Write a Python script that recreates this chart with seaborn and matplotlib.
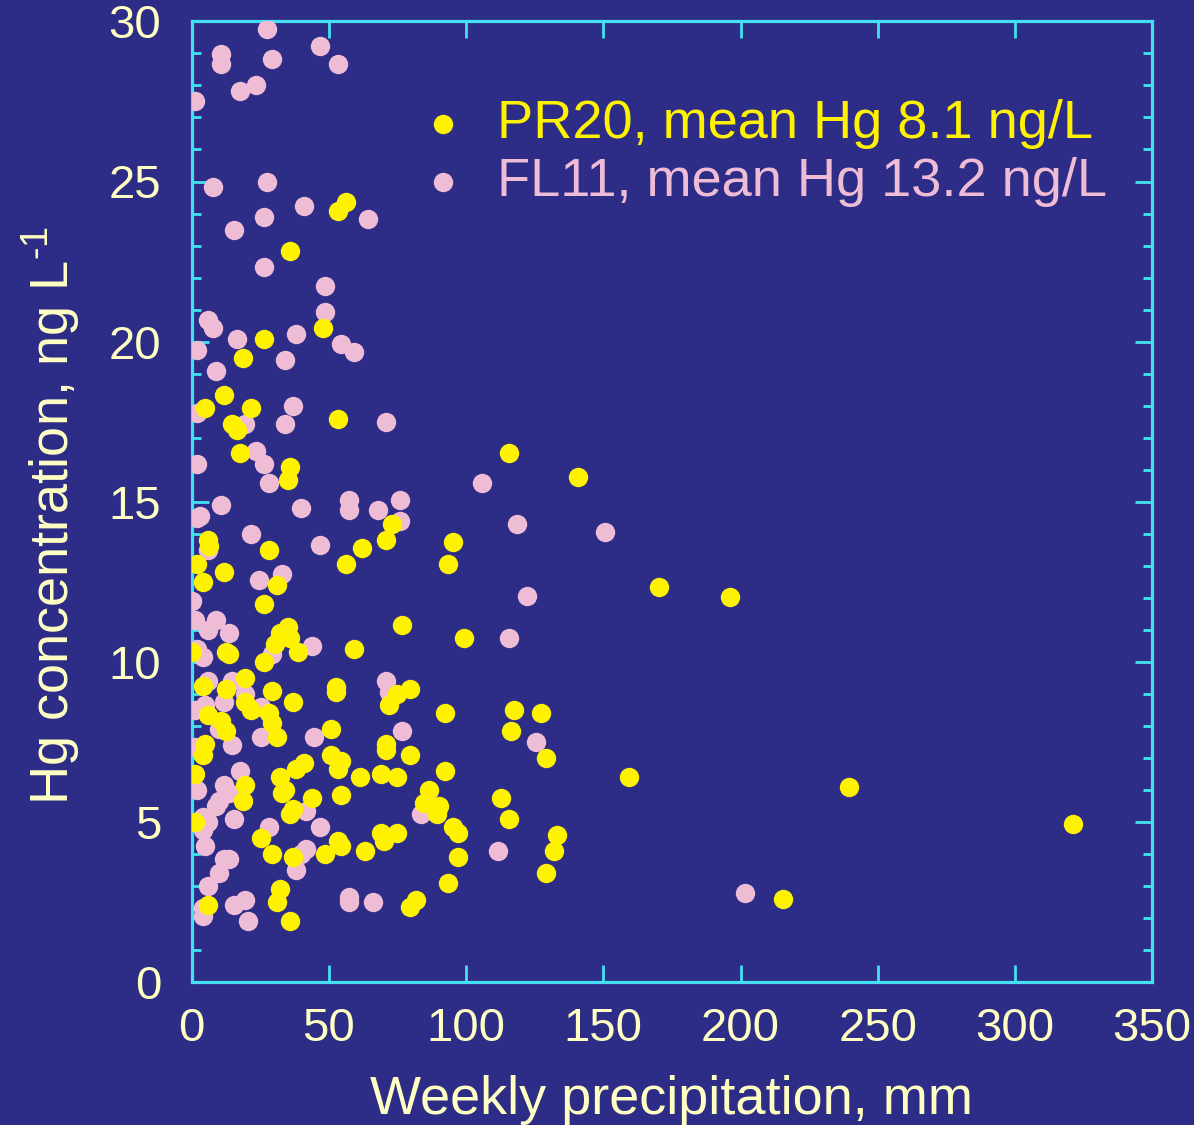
import matplotlib
matplotlib.use("Agg")
import matplotlib.pyplot as plt
from matplotlib.ticker import MultipleLocator
import seaborn as sns
import pandas as pd

# Colours
BG = "#2d2d87"
AXIS = "#44e0f2"
TEXT = "#ffffc4"
YELLOW = "#fff200"
PINK = "#efbcd6"

# PR20 site: weekly precipitation (mm) and Hg (ng/L)
pr20_x = [56.4, 53.5, 36.0, 47.7, 26.3, 18.6, 11.8, 5.0, 21.5, 53.5,
          14.7, 16.6, 17.6, 36.0, 35.0, 72.9, 70.9, 5.9, 6.5, 28.3,
          62.2, 56.4, 2.1, 11.8, 4.0, 31.2, 26.3, 35.0, 32.1, 36.0,
          30.2, 38.9, 76.8, 59.3, 0.1, 12.7, 13.7, 26.3, 52.5, 52.5,
          74.8, 79.7, 71.9, 19.5, 4.0, 12.7, 29.2, 37.0, 19.5, 5.9,
          21.5, 28.3, 29.2, 10.8, 12.7, 50.6, 31.2, 5.0, 4.0, 70.9,
          70.9, 79.7, 1.1, 19.5, 18.6, 1.1, 32.1, 37.9, 40.9, 34.1,
          33.1, 43.8, 37.0, 36.0, 25.4, 29.2, 37.0, 50.6, 53.5, 54.5,
          61.2, 69.0, 74.8, 54.5, 53.5, 54.5, 48.6, 63.2, 69.0, 70.0,
          74.8, 32.1, 31.2, 5.9, 36.0, 79.7, 81.6, 115.6, 140.8, 95.2,
          93.3, 170.4, 196.1, 99.1, 92.3, 117.5, 127.2, 116.5, 129.1, 92.3,
          159.2, 86.5, 84.5, 90.3, 89.4, 112.7, 115.6, 95.2, 97.1, 133.0,
          132.0, 97.1, 129.1, 93.3, 239.7, 321.2, 215.4]
pr20_y = [24.35, 24.08, 22.83, 20.42, 20.08, 19.50, 18.34, 17.92, 17.92, 17.59,
          17.42, 17.25, 16.51, 16.09, 15.67, 14.32, 13.82, 13.82, 13.62, 13.49,
          13.57, 13.07, 13.07, 12.82, 12.49, 12.40, 11.82, 11.09, 10.89, 10.76,
          10.57, 10.32, 11.16, 10.41, 10.32, 10.32, 10.24, 9.99, 9.20, 9.05,
          9.01, 9.16, 8.64, 9.51, 9.24, 9.16, 9.08, 8.74, 8.74, 8.33,
          8.49, 8.41, 8.08, 8.16, 7.83, 7.91, 7.66, 7.45, 7.08, 7.45,
          7.25, 7.08, 6.49, 6.16, 5.66, 5.00, 6.41, 6.66, 6.83, 5.99,
          5.91, 5.74, 5.41, 5.24, 4.50, 4.00, 3.91, 7.08, 6.66, 6.91,
          6.41, 6.49, 6.41, 5.83, 4.41, 4.25, 4.00, 4.08, 4.66, 4.41,
          4.66, 2.91, 2.50, 2.41, 1.91, 2.35, 2.58, 16.51, 15.76, 13.74,
          13.07, 12.34, 12.02, 10.74, 8.41, 8.49, 8.41, 7.83, 6.99, 6.58,
          6.41, 5.99, 5.58, 5.49, 5.24, 5.74, 5.08, 4.83, 4.66, 4.58,
          4.08, 3.91, 3.41, 3.08, 6.09, 4.93, 2.59]

# FL11 site
fl11_x = [27.3, 10.8, 10.8, 29.2, 46.7, 53.5, 17.6, 23.4, 1.1, 7.9,
          27.3, 40.9, 26.3, 15.6, 64.1, 26.3, 48.6, 48.6, 5.9, 7.9,
          16.6, 37.9, 54.5, 59.3, 2.1, 34.1, 8.9, 2.1, 37.0, 70.9,
          19.5, 34.1, 23.4, 26.3, 2.1, 28.3, 10.8, 39.9, 57.4, 57.4,
          68.0, 75.8, 75.8, 3.0, 2.1, 5.9, 21.5, 46.7, 24.4, 33.1,
          0.1, 1.1, 8.8, 5.9, 13.7, 43.8, 2.1, 4.0, 29.2, 70.9,
          71.9, 5.9, 14.7, 19.5, 11.8, 5.0, 1.1, 25.4, 9.8, 44.7,
          25.4, 76.8, 1.1, 14.7, 17.6, 2.1, 11.8, 13.7, 9.8, 8.8,
          4.0, 5.9, 4.0, 5.0, 15.6, 41.8, 28.3, 46.7, 41.8, 39.9,
          37.9, 11.8, 13.7, 9.8, 5.9, 4.0, 4.0, 15.6, 19.5, 20.5,
          57.4, 57.4, 66.1, 105.9, 118.5, 150.5, 122.3, 115.6, 125.3, 83.6,
          111.7, 201.5]
fl11_y = [29.75, 28.99, 28.66, 28.83, 29.24, 28.66, 27.83, 28.00, 27.50, 24.83,
          25.00, 24.25, 23.90, 23.50, 23.84, 22.33, 21.75, 20.92, 20.67, 20.42,
          20.08, 20.25, 19.92, 19.67, 19.75, 19.42, 19.09, 17.76, 18.00, 17.50,
          17.42, 17.42, 16.59, 16.17, 16.17, 15.59, 14.90, 14.82, 15.07, 14.74,
          14.74, 15.07, 14.40, 14.57, 14.49, 13.49, 13.99, 13.65, 12.57, 12.74,
          11.90, 11.32, 11.32, 10.99, 10.91, 10.49, 10.41, 10.16, 10.24, 9.41,
          9.05, 9.41, 9.41, 8.99, 8.74, 8.66, 8.49, 8.58, 7.91, 7.66,
          7.66, 7.83, 7.33, 7.41, 6.58, 5.99, 6.16, 5.91, 5.66, 5.49,
          5.16, 5.00, 4.75, 4.25, 5.08, 5.33, 4.83, 4.83, 4.16, 4.00,
          3.50, 3.83, 3.83, 3.41, 3.00, 2.33, 2.08, 2.41, 2.58, 1.91,
          2.66, 2.50, 2.50, 15.59, 14.32, 14.07, 12.07, 10.74, 7.49, 5.24,
          4.08, 2.78]

labels = ["PR20, mean Hg 8.1 ng/L", "FL11, mean Hg 13.2 ng/L"]

sns.set_style("ticks")
plt.rcParams["font.family"] = ["Liberation Sans", "DejaVu Sans"]
plt.rcParams["mathtext.fontset"] = "custom"
plt.rcParams["mathtext.rm"] = "Liberation Sans"

fig = plt.figure(figsize=(11.94, 11.25), dpi=100, facecolor=BG)
ax = fig.add_axes([0.1605, 0.127, 0.8045, 0.854])
ax.set_facecolor(BG)

pr20 = pd.DataFrame({"x": pr20_x, "y": pr20_y})
fl11 = pd.DataFrame({"x": fl11_x, "y": fl11_y})

# FL11 drawn first, PR20 on top
sns.scatterplot(data=fl11, x="x", y="y", color=PINK, s=195, linewidth=0,
                ax=ax, label=labels[1], zorder=3)
sns.scatterplot(data=pr20, x="x", y="y", color=YELLOW, s=195, linewidth=0,
                ax=ax, label=labels[0], zorder=4)

ax.set_xlim(0, 350)
ax.set_ylim(0, 30)
ax.xaxis.set_major_locator(MultipleLocator(50))
ax.yaxis.set_major_locator(MultipleLocator(5))
ax.yaxis.set_minor_locator(MultipleLocator(1))

for sp in ax.spines.values():
    sp.set_color(AXIS)
    sp.set_linewidth(2.3)
    sp.set_visible(True)

ax.tick_params(which="both", direction="in", color=AXIS, width=2,
               top=True, right=True, labelcolor=TEXT, labelsize=34)
ax.tick_params(which="major", length=12.5)
ax.tick_params(which="minor", length=6.5)
ax.tick_params(axis="x", pad=18)
ax.tick_params(axis="y", pad=22)

ax.set_xlabel("Weekly precipitation, mm", color=TEXT, fontsize=39, labelpad=17)
ax.set_ylabel(r"Hg concentration, ng L$^{\text{-1}}$", color=TEXT,
              fontsize=39, labelpad=18, y=0.486)

handles, labs = ax.get_legend_handles_labels()
leg = ax.legend(handles[::-1], labs[::-1], loc="upper left",
                bbox_to_anchor=(0.205, 0.942), frameon=False, fontsize=39,
                handletextpad=0.4, labelspacing=0.15, markerscale=1.0,
                labelcolor=[YELLOW, PINK], borderaxespad=0, handlelength=1.2)

fig.savefig("out.png", dpi=100, facecolor=BG)
